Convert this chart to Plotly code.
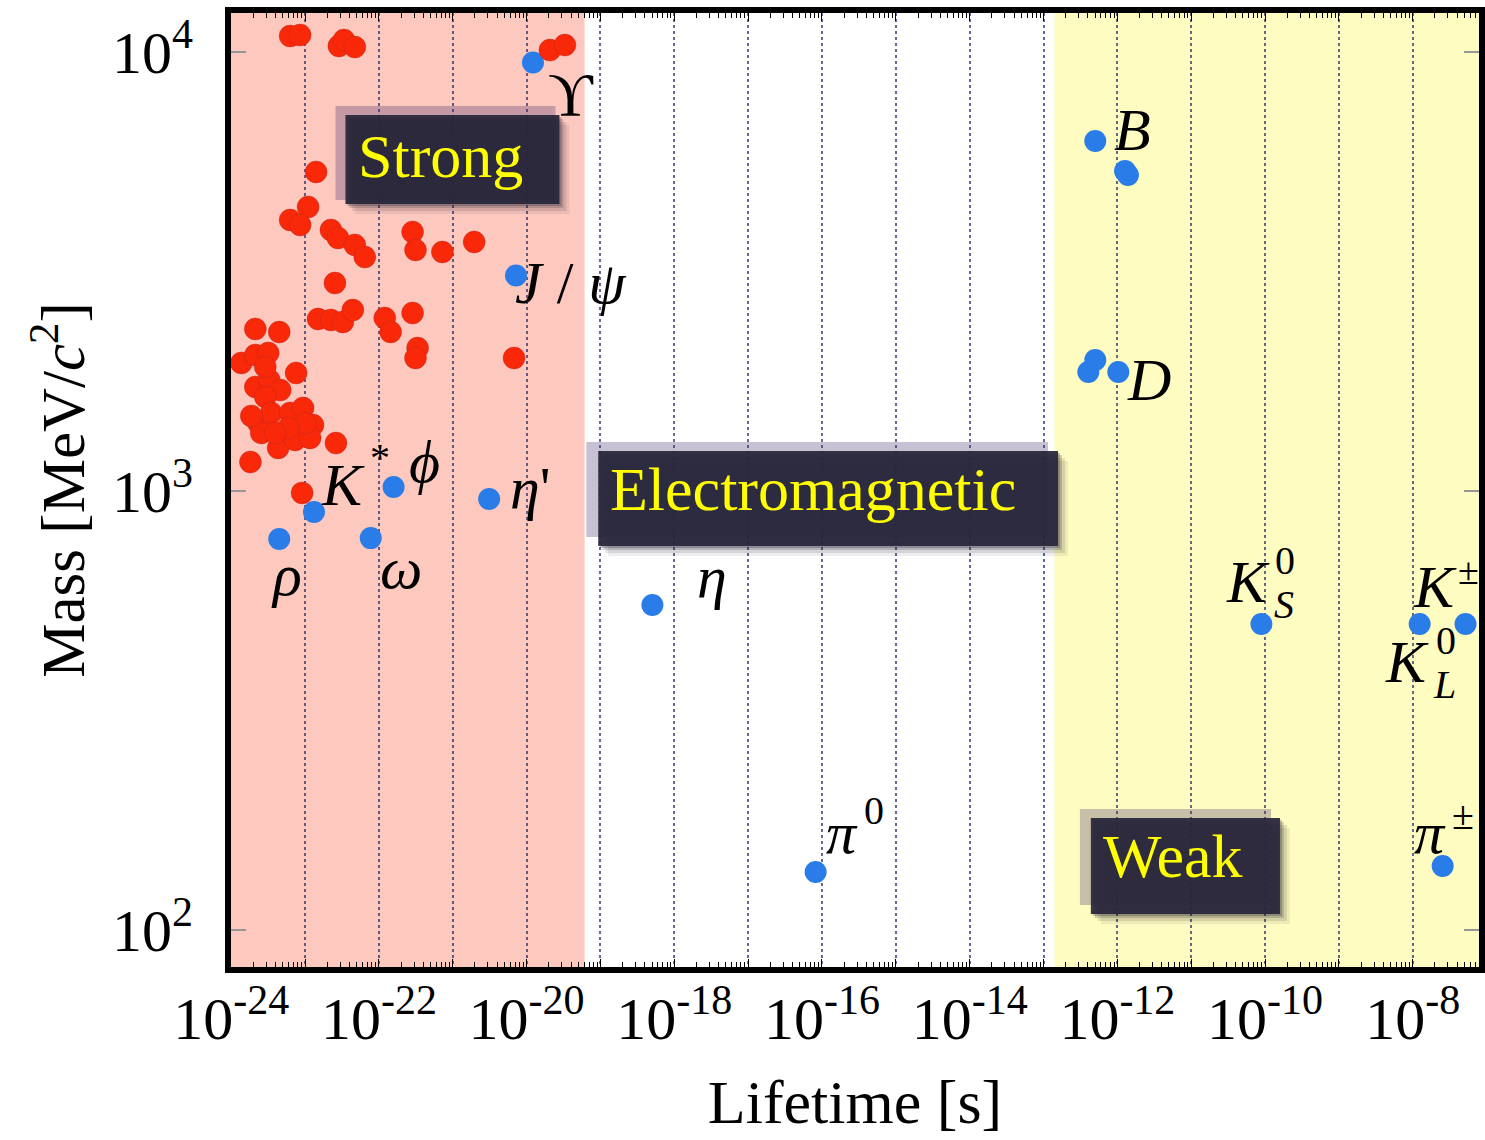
import math
import plotly.graph_objects as go

# ---------------- data ----------------
# strong-decaying resonances (red)
strong_lifetime_s = [6.28e-24, 8.57e-24, 2.87e-23, 3.36e-23, 4.72e-23, 2.07e-20, 3.30e-20,
                     1.41e-23, 1.10e-23, 6.28e-24, 8.57e-24, 2.24e-23, 2.79e-23, 4.72e-23, 6.44e-23,
                     2.86e-22, 3.13e-22, 7.24e-22, 1.95e-21, 2.54e-23,
                     1.50e-23, 2.24e-23, 3.25e-23, 4.43e-23, 1.20e-22, 1.44e-22, 2.86e-22, 3.34e-22, 3.13e-22, 6.76e-21,
                     2.12e-24, 4.47e-24, 1.37e-24, 2.12e-24, 3.17e-24, 7.57e-24, 2.12e-24, 3.27e-24, 4.61e-24, 2.89e-24,
                     2.33e-24, 3.48e-24, 6.28e-24, 9.40e-24, 1.28e-23, 2.55e-24, 4.32e-24, 7.33e-24, 1.17e-23, 1.00e-23,
                     2.62e-23, 1.82e-24, 9.12e-24, 1.87e-24, 5.90e-24, 3.94e-24, 2.89e-24]
strong_mass_mev = [10870, 10930, 10320, 10650, 10260, 10100, 10370,
                   5330, 4436, 4143, 4036, 3931, 3770, 3635, 3412,
                   3890, 3540, 3503, 3691, 2977,
                   2465, 2452, 2427, 2584, 2478, 2302, 2544, 2117, 2009, 2009,
                   2339, 2302, 1957, 2040, 2062, 1857, 1726, 1789, 1698, 1637,
                   1428, 1506, 1506, 1546, 1413, 1356, 1253, 1307, 1321, 1428,
                   1286, 1164, 990, 1482, 1391, 1356, 1917]

# labelled mesons (blue)
meson_keys = ["rho", "Kstar", "omega", "phi", "etap", "jpsi", "upsilon", "eta", "pi0",
              "Bc", "B1", "B2", "Ds", "D0", "Dpm", "KS", "Kpm", "KL", "pipm"]
meson_lifetime_s = [4.47e-24, 1.32e-23, 7.75e-23, 1.58e-22, 3.11e-21, 7.19e-21, 1.22e-20, 5.05e-19, 8.2e-17,
                    5.02e-13, 1.27e-12, 1.39e-12, 5.02e-13, 4.04e-13, 1.03e-12, 8.93e-11, 1.24e-8, 5.18e-8, 2.54e-8]
meson_mass_mev = [777, 896, 781, 1021, 959, 3097, 9460, 550, 135.6,
                  6271, 5357, 5246, 1988, 1867, 1867, 498, 498, 498, 139.9]

# interaction regions (lifetime boundaries, s)
strong_em_boundary_s = 6.1e-20
em_weak_boundary_s = 1.4e-13
region_names = ["Strong", "Electromagnetic", "Weak"]

x_tick_vals = [10.0 ** e for e in range(-24, -7)]
x_tick_text = ["10<sup>%d</sup>" % e if e % 2 == 0 else "" for e in range(-24, -7)]
y_tick_vals = [1e2, 1e3, 1e4]
y_tick_text = ["10<sup>2</sup>", "10<sup>3</sup>", "10<sup>4</sup>"]
x_minor_vals = [k * 10.0 ** e for e in range(-24, -7) for k in range(2, 10)]

# ---------------- layout geometry ----------------
W, H = 1485, 1140
L, R, T, B = 231, 0, 13, 173
PW, PH = W - L - R, H - T - B
XR = [-24.003, -7.103]
YR = [1.9157, 4.0888]

SERIF = "Liberation Serif"
RED = "rgb(248,40,8)"
BLUE = "rgb(42,125,232)"

fig = go.Figure()

fig.add_trace(go.Scatter(x=meson_lifetime_s, y=meson_mass_mev, mode="markers",
                         marker=dict(size=22, color=BLUE, line=dict(width=0)),
                         hoverinfo="skip"))
fig.add_trace(go.Scatter(x=strong_lifetime_s, y=strong_mass_mev, mode="markers",
                         marker=dict(size=22, color=RED, line=dict(width=0.6, color="rgba(170,40,40,0.6)")),
                         hoverinfo="skip"))

shapes = []
# region shading
shapes.append(dict(type="rect", xref="x", yref="paper", x0=10 ** XR[0], x1=strong_em_boundary_s, y0=0, y1=1,
                   fillcolor="rgb(253,200,190)", line=dict(width=0), layer="below"))
shapes.append(dict(type="rect", xref="x", yref="paper", x0=em_weak_boundary_s, x1=10 ** XR[1], y0=0, y1=1,
                   fillcolor="rgb(255,252,194)", line=dict(width=0), layer="below"))


def px(xp):
    return (xp - L) / PW


def py(yp):
    return (H - B - yp) / PH


# label boxes (pixel rectangles: light band, dark core, text centre)
box_specs = [
    ((336, 106, 557, 200), (346, 115, 561, 204), (442, 156)),
    ((588, 442, 1052, 537), (600, 451, 1062, 546), (816, 489)),
    ((1084, 809, 1276, 905), (1095, 818, 1285, 914), (1178, 856)),
]
annotations = []
for name, (light, core, tc) in zip(region_names, box_specs):
    shapes.append(dict(type="rect", xref="paper", yref="paper",
                       x0=px(light[0]), x1=px(light[2]), y0=py(light[3]), y1=py(light[1]),
                       fillcolor="rgba(70,50,110,0.30)", line=dict(width=0), layer="above"))
    for grow, op in [(10, 0.08), (7, 0.12), (4, 0.18), (2, 0.25)]:
        shapes.append(dict(type="rect", xref="paper", yref="paper",
                           x0=px(core[0] + grow), x1=px(core[2] + grow),
                           y0=py(core[3] + grow), y1=py(core[1] + grow),
                           fillcolor="rgba(30,28,45,%.2f)" % op, line=dict(width=0), layer="above"))
    shapes.append(dict(type="rect", xref="paper", yref="paper",
                       x0=px(core[0]), x1=px(core[2]), y0=py(core[3]), y1=py(core[1]),
                       fillcolor="rgba(40,38,58,0.93)", line=dict(width=0), layer="above"))
    annotations.append(dict(xref="paper", yref="paper", x=px(tc[0]), y=py(tc[1]), text=name,
                            showarrow=False, xanchor="center", yanchor="middle",
                            font=dict(family=SERIF, size=62, color="rgb(255,255,0)")))

# meson labels: (text, dx, dy(up), size) attached to a meson point
meson_label_text = {
    "upsilon": [("ϒ", 38, -31, 62)],
    "jpsi": [("<i>J</i> / <i>ψ</i>", 55, -8, 60)],
    "etap": [("<i>η</i>'", 41, 11, 60)],
    "phi": [("<i>ϕ</i>", 31, 25, 60)],
    "Kstar": [("<i>K</i>", 29, 27, 60), ("*", 66, 54, 40)],
    "rho": [("<i>ρ</i>", 7, -36, 60)],
    "omega": [("<i>ω</i>", 30, -30, 60)],
    "eta": [("<i>η</i>", 60, 28, 60)],
    "pi0": [("<i>π</i>", 26, 39, 60), ("0", 58, 61, 40)],
    "Bc": [("<i>B</i>", 37, 11, 60)],
    "Dpm": [("<i>D</i>", 31, -8, 60)],
    "KS": [("<i>K</i>", -13, 42, 60), ("0", 24, 63, 40), ("<i>S</i>", 23, 19, 40)],
    "Kpm": [("<i>K</i>", 15, 37, 60), ("±", 49, 53, 38),
            ("<i>K</i>", -13, -38, 60), ("0", 26, -17, 40), ("<i>L</i>", 25, -61, 40)],
    "pipm": [("<i>π</i>", -13, 33, 60), ("±", 20, 50, 40)],
}
for key, items in meson_label_text.items():
    i = meson_keys.index(key)
    for text, dx, dy, size in items:
        annotations.append(dict(xref="x", yref="y",
                                x=math.log10(meson_lifetime_s[i]), y=math.log10(meson_mass_mev[i]),
                                xshift=dx, yshift=dy, text=text, showarrow=False,
                                xanchor="center", yanchor="middle",
                                font=dict(family=SERIF, size=size, color="black")))

fig.update_layout(
    width=W, height=H,
    margin=dict(l=L, r=R, t=T, b=B, pad=0),
    plot_bgcolor="white", paper_bgcolor="white",
    showlegend=False,
    font=dict(family=SERIF, color="black"),
    shapes=shapes,
    annotations=annotations,
)

fig.update_xaxes(
    type="log", range=XR,
    tickmode="array", tickvals=x_tick_vals, ticktext=x_tick_text,
    ticks="inside", ticklen=8, tickwidth=1, tickcolor="black",
    tickfont=dict(family=SERIF, size=60, color="black"),
    ticklabelstandoff=-6,
    showline=True, linewidth=6, linecolor="black", mirror="allticks",
    showgrid=True, gridcolor="rgba(40,40,100,0.7)", gridwidth=1.5, griddash="dot",
    minor=dict(tickmode="array", tickvals=x_minor_vals, ticks="inside", ticklen=5,
               tickwidth=1, tickcolor="black", showgrid=False),
    zeroline=False,
    title=dict(text="Lifetime [s]", font=dict(family=SERIF, size=62, color="black"), standoff=31),
)
fig.update_yaxes(
    type="log", range=YR,
    tickmode="array", tickvals=y_tick_vals, ticktext=y_tick_text,
    ticks="inside", ticklen=15, tickwidth=1.5, tickcolor="rgb(150,150,150)",
    tickfont=dict(family=SERIF, size=60, color="black"),
    ticklabelstandoff=20,
    showline=True, linewidth=6, linecolor="black", mirror="ticks",
    showgrid=False, zeroline=False,
    title=dict(text="Mass [MeV/<i>c</i><sup>2</sup>]", font=dict(family=SERIF, size=61, color="black"),
               standoff=10),
)

fig.write_html("out.html")
